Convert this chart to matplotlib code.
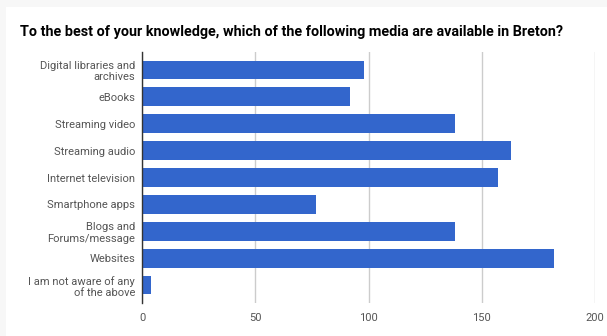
import matplotlib
matplotlib.use("Agg")
from matplotlib import pyplot as plt
from matplotlib.patches import Rectangle

plt.rcParams['font.family'] = ['Roboto', 'DejaVu Sans']

categories = ["Digital libraries and\narchives", "eBooks", "Streaming video",
              "Streaming audio", "Internet television", "Smartphone apps",
              "Blogs and\nForums/message", "Websites",
              "I am not aware of any\nof the above"]
values = [98, 92, 138, 163, 157, 77, 138, 182, 4]
xticks = [0, 50, 100, 150, 200]

fig = plt.figure(figsize=(6.07, 3.36), dpi=100)
fig.patch.set_facecolor('#f7f7f7')

# white card behind the chart
bg = fig.add_axes([6 / 607, 0, 1, 1 - 7 / 336], zorder=-5)
bg.axis('off')
bg.add_patch(Rectangle((0, 0), 1, 1, transform=bg.transAxes, facecolor='white', edgecolor='none'))

ax = fig.add_axes([142 / 607, 33 / 336, 453 / 607, 251 / 336])
ax.set_facecolor('none')

ypos = list(range(len(categories)))
ax.barh(ypos, values, height=0.67, color='#3366cc', zorder=3)
ax.set_ylim(len(categories) - 0.35, -0.65)
ax.set_xlim(0, 200)

ax.set_yticks(ypos)
ax.set_yticklabels(categories, fontsize=8, color='#555555', linespacing=1.15)
ax.set_xticks(xticks)
ax.set_xticklabels([str(t) for t in xticks], fontsize=8, color='#555555')
ax.tick_params(length=0)
ax.tick_params(axis='y', pad=5)
ax.tick_params(axis='x', pad=7)

ax.grid(axis='x', color='#cccccc', linewidth=1, zorder=0)
for s in ['top', 'right', 'bottom']:
    ax.spines[s].set_visible(False)
ax.spines['left'].set_color('#333333')
ax.spines['left'].set_linewidth(1)
ax.spines['left'].set_zorder(4)

fig.text(20 / 607, 1 - 32 / 336,
         "To the best of your knowledge, which of the following media are available in Breton?",
         fontsize=10.4, fontweight='bold', color='#000000', va='center', ha='left')

fig.savefig("out.png", dpi=100, facecolor=fig.get_facecolor())
